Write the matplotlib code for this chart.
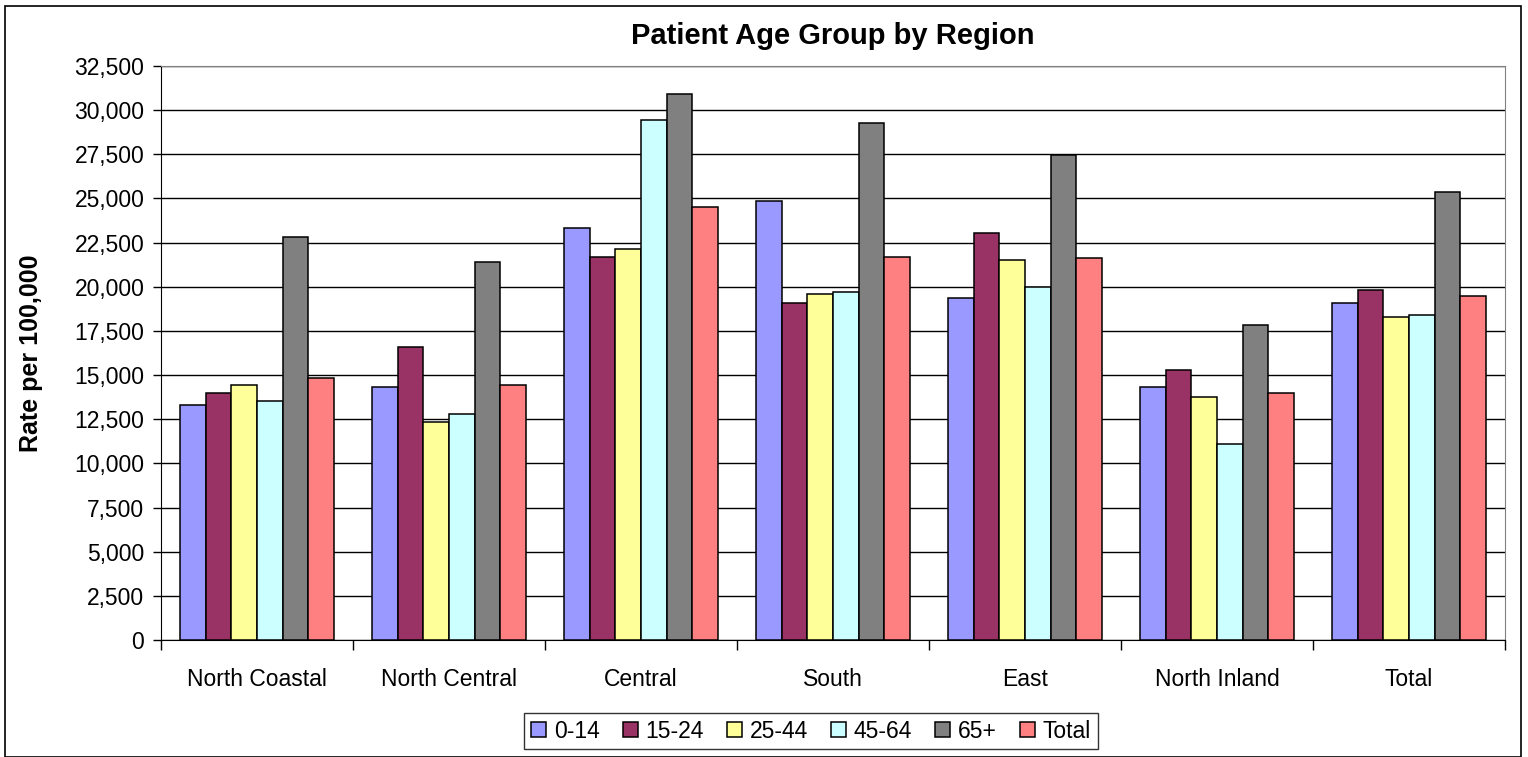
import numpy as np
import matplotlib
matplotlib.use("Agg")
import matplotlib.pyplot as plt
from matplotlib.ticker import FuncFormatter, MultipleLocator

plt.rcParams["font.family"] = ["Liberation Sans", "DejaVu Sans"]

regions = ["North Coastal", "North Central", "Central", "South", "East", "North Inland", "Total"]
age_groups = ["0-14", "15-24", "25-44", "45-64", "65+", "Total"]
colors = ["#9999FF", "#993366", "#FFFF99", "#CCFFFF", "#808080", "#FF8080"]

age_0_14 = [13330, 14340, 23340, 24870, 19360, 14320, 19100]
age_15_24 = [13970, 16590, 21700, 19100, 23040, 15300, 19820]
age_25_44 = [14440, 12360, 22160, 19580, 21520, 13780, 18270]
age_45_64 = [13520, 12810, 29460, 19720, 19990, 11080, 18380]
age_65_up = [22800, 21420, 30920, 29290, 27480, 17840, 25380]
age_total = [14850, 14440, 24520, 21700, 21610, 13970, 19460]
series = [age_0_14, age_15_24, age_25_44, age_45_64, age_65_up, age_total]

W, H = 1528, 757
fig = plt.figure(figsize=(W / 100, H / 100), dpi=100)
ax = fig.add_axes([161 / W, 1 - 640 / H, (1505 - 161) / W, (640 - 66) / H])

# outer chart border
fig.patches.append(plt.Rectangle((5 / W, 0), 1 - 12 / W, 1 - 6 / H, transform=fig.transFigure,
                                 fill=False, edgecolor="black", linewidth=1.2))

x = np.arange(len(regions))
bw = 0.8 / len(age_groups)
for i, (label, vals, c) in enumerate(zip(age_groups, series, colors)):
    offs = (i - (len(age_groups) - 1) / 2) * bw
    ax.bar(x + offs, vals, bw, color=c, edgecolor="black", linewidth=1.1, label=label, zorder=3)

ax.set_xlim(-0.5, len(regions) - 0.5)
ax.set_ylim(0, 32500)
ax.yaxis.set_major_locator(MultipleLocator(2500))
ax.yaxis.set_major_formatter(FuncFormatter(lambda v, p: f"{v:,.0f}"))
ax.grid(axis="y", color="black", linewidth=1.0, zorder=0)

ax.set_xticks(x)
ax.set_xticklabels(regions)
ax.set_xticks(np.arange(-0.5, len(regions)), minor=True)
ax.tick_params(axis="x", which="major", length=0, pad=20, labelsize=16.5)
ax.tick_params(axis="x", which="minor", length=7, width=1, direction="out")
ax.tick_params(axis="y", length=6, width=1, pad=6, labelsize=16.5)

for side in ["top", "right"]:
    ax.spines[side].set_color("#808080")
for side in ["left", "bottom"]:
    ax.spines[side].set_color("black")

ax.set_ylabel("Rate per 100,000", fontsize=18, fontweight="bold", labelpad=16)
ax.yaxis.set_label_coords(-118 / (1505 - 161), 0.5)
ax.set_title("Patient Age Group by Region", fontsize=21, fontweight="bold", pad=16)

leg = ax.legend(loc="center", bbox_to_anchor=(811 / W, 1 - 731 / H), bbox_transform=fig.transFigure,
                ncol=6, fontsize=16.5, frameon=True, fancybox=False, edgecolor="black",
                handlelength=0.65, handleheight=0.65, handletextpad=0.35, columnspacing=1.0,
                borderpad=0.3)
leg.get_frame().set_linewidth(1.0)

fig.savefig("out.png", dpi=100)
